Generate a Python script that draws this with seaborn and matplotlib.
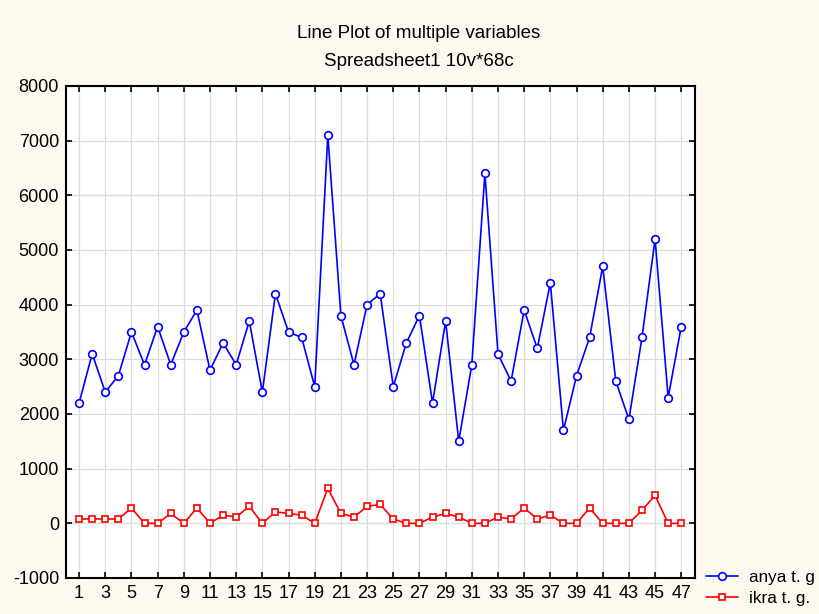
import matplotlib
matplotlib.use("Agg")
import matplotlib.pyplot as plt
import seaborn as sns
import pandas as pd
import numpy as np

cases = list(range(1, 48))
anya = [2200, 3100, 2400, 2700, 3500, 2900, 3600, 2900, 3500, 3900,
        2800, 3300, 2900, 3700, 2400, 4200, 3500, 3400, 2500, 7100,
        3800, 2900, 4000, 4200, 2500, 3300, 3800, 2200, 3700, 1500,
        2900, 6400, 3100, 2600, 3900, 3200, 4400, 1700, 2700, 3400,
        4700, 2600, 1900, 3400, 5200, 2300, 3600]
ikra = [80, 80, 80, 80, 280, 0, 0, 180, 0, 280,
        0, 150, 115, 310, 0, 210, 180, 150, 0, 640,
        180, 115, 310, 345, 80, 0, 0, 115, 180, 115,
        0, 0, 115, 80, 280, 80, 150, 0, 0, 280,
        0, 0, 0, 240, 510, 0, 0]
series_names = ["anya t. g", "ikra t. g."]
xticks = list(range(1, 48, 2))
xtick_labels = [str(v) for v in xticks]
yticks = list(range(-1000, 8001, 1000))

sns.set_style("white")
plt.rcParams['font.family'] = ['Liberation Sans', 'DejaVu Sans']
plt.rcParams['text.color'] = 'black'

fig = plt.figure(figsize=(8.19, 6.14), dpi=100, facecolor="#fdf9ef")
ax = fig.add_axes([66/819, 1-578/614, (695-66)/819, (578-86)/614])
ax.set_facecolor("white")

df = pd.DataFrame({"case": cases, series_names[0]: anya, series_names[1]: ikra})

sns.lineplot(data=df, x="case", y=series_names[0], ax=ax, color="#0000ff",
             marker="o", markersize=5.5, markerfacecolor="white",
             markeredgecolor="#0000ff", markeredgewidth=1.2, linewidth=1.2,
             label=series_names[0])
sns.lineplot(data=df, x="case", y=series_names[1], ax=ax, color="#ff0000",
             marker="s", markersize=5, markerfacecolor="white",
             markeredgecolor="#ff0000", markeredgewidth=1.2, linewidth=1.2,
             label=series_names[1])

ax.set_xlim(0, 48.05)
ax.set_ylim(-1000, 8000)
ax.set_xticks(xticks)
ax.set_xticklabels(xtick_labels)
ax.set_yticks(yticks)
ax.set_yticklabels([str(v) for v in yticks])
ax.grid(True, color="#dcdcdc", linewidth=0.9)
ax.set_axisbelow(True)
ax.tick_params(direction="in", length=4, width=1.2, top=True, right=True,
               bottom=True, left=True, labelsize=13, colors="black", pad=5)
for s in ax.spines.values():
    s.set_color("black")
    s.set_linewidth(1.5)
ax.set_xlabel("")
ax.set_ylabel("")

if ax.legend_:
    ax.legend_.remove()
handles, labels = ax.get_legend_handles_labels()
fig.legend(handles, labels, loc="center left", bbox_to_anchor=(706/819, (614-588)/614),
           frameon=False, fontsize=12.3, handlelength=1.9, handletextpad=0.6,
           labelspacing=0.4, borderaxespad=0, borderpad=0)

fig.text(419/819, 1-34/614, "Line Plot of multiple variables", ha="center",
         va="center", fontsize=13.5)
fig.text(419/819, 1-62/614, "Spreadsheet1 10v*68c", ha="center",
         va="center", fontsize=13.5)

fig.savefig("out.png", dpi=100, facecolor=fig.get_facecolor())
